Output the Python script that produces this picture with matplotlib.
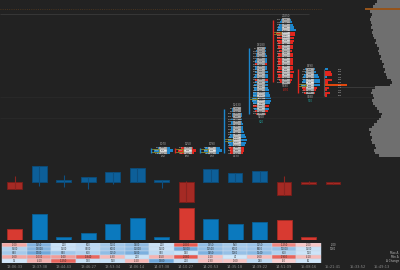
import matplotlib
matplotlib.use("Agg")
import matplotlib.pyplot as plt
from matplotlib.patches import Rectangle
import numpy as np

BG = '#222222'
BLUE = '#1c86cc'
RED = '#e3261e'
TEAL = '#1f9e9a'

# ---- per-bar data (14 bars, last one still forming) ----
times = ['13:06:33', '13:37:38', '13:44:43', '13:46:27', '13:53:34', '14:06:14',
         '14:07:38', '14:10:27', '14:20:53', '14:35:18', '14:39:22', '14:51:09',
         '15:08:16', '15:21:41', '15:33:52', '15:49:13']
delta_close = [-700, 1650, 200, 500, 1000, 1400, 200, -2000, 1350, 950, 1150, -1250, -200, -200]
delta_high = [600, 1650, 700, 500, 1000, 1400, 200, 150, 1350, 950, 1150, 600, 100, 0]
delta_low = [-700, -400, -500, -700, -200, 0, -550, -2000, 0, 0, 0, -1250, -200, -200]
volume = [5500, 13000, 1500, 3500, 8000, 11000, 1500, 16000, 10500, 8000, 9000, 10000, 1500]

# ---- statistics table under the chart ----
row_names = ['Max Δ', 'Min Δ', 'Δ Change']
max_delta = [820, 1700, 870, 610, 1150, 1500, 350, 140, 1450, 1060, 1240, 610, 120]
min_delta = [-760, -1030, -940, -1840, -430, 210, -550, -2080, -310, 40, -360, -1900, -410]
delta_change = [15, -410, -1250, 130, 160, -320, 1380, 210, -230, -160, 290, -50, 60]

# ---- footprint clusters (price levels from low to high) ----
BASE = 4170.00
TICK = 0.25
cl_bar = [6, 7, 8, 9, 10, 11, 12]
cl_low = [4170.25, 4170.25, 4170.25, 4170.25, 4174.00, 4177.00, 4176.00]
cl_up = [True, False, True, True, True, False, False]
cl_bids = [
    [120, 260, 90],
    [210, 380, 160],
    [90, 230, 150],
    [310, 420, 520, 480, 610, 700, 560, 430, 380, 300, 260, 240, 210, 180, 150, 120, 90, 60],
    [180, 340, 420, 510, 560, 640, 720, 590, 480, 420, 380, 350, 300, 330, 360, 310, 280,
     250, 230, 260, 220, 190, 160, 130, 100, 70],
    [200, 330, 410, 470, 520, 490, 450, 400, 430, 470, 420, 380, 350, 400, 440, 480, 520,
     560, 600, 650, 540, 420, 300, 210, 120],
    [160, 240, 330, 420, 350, 300, 240, 190, 140, 90],
]
cl_asks = [
    [150, 310, 140],
    [140, 250, 110],
    [130, 300, 190],
    [260, 390, 470, 520, 690, 820, 640, 520, 450, 360, 300, 280, 240, 200, 170, 130, 100, 70],
    [150, 300, 460, 480, 620, 700, 760, 640, 520, 470, 400, 390, 340, 300, 380, 340, 320,
     290, 260, 240, 250, 230, 190, 160, 120, 90],
    [150, 260, 340, 380, 450, 410, 400, 350, 390, 410, 360, 330, 300, 330, 380, 420, 450,
     490, 560, 620, 700, 480, 350, 240, 140],
    [120, 190, 280, 460, 520, 470, 380, 300, 200, 110],
]
cur_bar = 13
cur_low = 4175.75
cur_bids = [80, 140, 60, 110, 480, 90, 200, 40, 180, 150, 60]
cur_asks = [40, 90, 50, 60, 420, 60, 120, 70, 140, 110, 90]

# ---- session volume profile, one value per level from BASE upward ----
profile = [2000, 2400, 2500, 2300, 2400, 2700, 2800, 2700, 2900, 2800, 3000, 2700, 2500, 2200,
           2000, 1800, 1700, 2000, 2200, 2400, 2600, 2700, 2500, 2600, 2800, 2700, 2400, 1000,
           800, 900, 1200, 1300, 1500, 1400, 1600, 1500, 1700, 1900, 1800, 2000, 2100, 2000,
           2200, 2400, 2300, 2500, 2600, 2700, 2600, 2800, 2700, 2800, 2900, 2800, 2700, 2900,
           3300, 2600, 2400, 2200]

XMIN, XMAX = -0.6, 15.73

fig = plt.figure(figsize=(4, 2.7), dpi=100, facecolor=BG)


def panel(rect):
    ax = fig.add_axes(rect)
    ax.set_facecolor(BG)
    ax.set_xlim(XMIN, XMAX)
    for s in ax.spines.values():
        s.set_visible(False)
    ax.set_xticks([])
    ax.set_yticks([])
    return ax


## Price panel with footprints ##
ax = panel([0, 0.4185, 1, 0.5815])
ax.set_ylim(BASE - 0.5 * TICK, BASE + 59.5 * TICK)

ax.hlines(BASE + 56 * TICK, XMIN, 12.5, color='#5a3c1e', lw=0.6, linestyle=':')
ax.hlines(BASE + 54 * TICK, XMIN, 12.0, color='#3a3a3a', lw=0.6)
ax.hlines([BASE + 22.5 * TICK, BASE + 14.5 * TICK], XMIN, XMAX, color='#2c2c2c', lw=0.5)
ax.hlines(BASE + 26.3 * TICK, 13.3, XMAX, color='#444444', lw=0.5)

for i, low, up, bids, asks in zip(cl_bar, cl_low, cl_up, cl_bids, cl_asks):
    bids = np.array(bids)
    asks = np.array(asks)
    tot = bids + asks
    lv = low + TICK * np.arange(len(bids))
    side_max = max(bids.max(), asks.max())
    col = np.where(asks >= bids, BLUE, RED)
    ax.barh(lv, -0.24 * bids / side_max, left=i - 0.1, height=TICK * 0.8, color=col)
    ax.barh(lv, 0.26 * asks / side_max, left=i + 0.22, height=TICK * 0.8, color=col)
    greys = [str(0.62 + 0.28 * v / tot.max()) for v in tot]
    ax.barh(lv, 0.32, left=i - 0.1, height=TICK * 0.9, color=greys, edgecolor='#555555', lw=0.2)
    ax.vlines(i - 0.45, lv[0], lv[-1], color=BLUE if up else RED, lw=1.0)
    for p, b, t in zip(lv, bids, tot):
        ax.text(i - 0.12, p, str(b), ha='right', va='center', fontsize=1.6, color='#bbbbbb', clip_on=True)
        ax.text(i + 0.06, p, str(t), ha='center', va='center', fontsize=1.6, color='#333333', clip_on=True)
    k = tot.argmax()
    ax.add_patch(Rectangle((i - 0.44, lv[k] - TICK * 0.45), 0.32, TICK * 0.9,
                           fill=False, ec='#8a8a2a', lw=0.6))
    d = int(asks.sum() - bids.sum())
    ax.text(i + 0.06, lv[-1] + TICK * 1.4, str(tot.sum()), ha='center', va='center',
            fontsize=2, color='#aaaaaa', clip_on=True)
    ax.text(i + 0.06, lv[0] - TICK * 1.4, str(asks.sum()), ha='center', va='center',
            fontsize=2, color='#aaaaaa', clip_on=True)
    ax.text(i + 0.06, lv[0] - TICK * 3.0, str(d), ha='center', va='center',
            fontsize=2, color=TEAL if d >= 0 else RED, clip_on=True)

# current (forming) bar
cb = np.array(cur_bids)
ca = np.array(cur_asks)
ct = cb + ca
clv = cur_low + TICK * np.arange(len(cb))
ccol = np.where(ca >= cb, BLUE, RED).tolist()
ccol[int(ct.argmax())] = '#e0470e'
ax.barh(clv, 0.9 * ct / ct.max(), left=cur_bar - 0.35, height=TICK * 0.85, color=ccol)
ax.vlines(cur_bar - 0.37, clv[0], clv[-1], color='#555555', lw=0.8)
for p, t in zip(clv, ct):
    ax.text(cur_bar + 0.2, p, str(t), ha='left', va='center', fontsize=1.6, color='#bbbbbb')

## Volume profile on the right ##
axp = fig.add_axes([0.8875, 0.4185, 0.1125, 0.5815], sharey=ax)
axp.set_facecolor('none')
axp.axis('off')
levels = BASE + TICK * np.arange(len(profile))
pcol = ['#6f6f6f'] * len(profile)
pcol[int(np.argmax(profile))] = '#94541c'
axp.barh(levels, profile, height=TICK, color=pcol)
axp.set_xlim(4300, 0)

## Delta candles ##
axc = panel([0, 0.2407, 1, 0.1667])
axc.set_ylim(-2300, 2200)
xc = np.arange(len(delta_close))
cc = np.array(delta_close)
body = np.where(cc >= 0, '#0d5f99', '#a52a24')
wick = np.where(cc >= 0, '#0d4f80', '#8a2420')
axc.vlines(xc, delta_low, delta_high, color=wick, lw=0.8)
axc.bar(xc, cc, bottom=0, width=0.6, color=body, edgecolor=np.where(cc >= 0, '#0a4c7a', '#7a1d19'), lw=0.6)

## Volume bars ##
axv = panel([0, 0.1111, 1, 0.1296])
axv.set_ylim(0, 17500)
xv = np.arange(len(volume))
vcol = np.where(cc[:len(volume)] >= 0, '#0b79be', '#d83a31')
vedge = np.where(cc[:len(volume)] >= 0, '#0a5f94', '#a82b24')
axv.bar(xv, volume, width=0.62, color=vcol, edgecolor=vedge, lw=0.6)

## Statistics table ##
axt = panel([0, 0.0259, 1, 0.0741])
axt.set_ylim(5, 0)


def shade(v, scale):
    t = min(abs(v) / scale, 1.0)
    if v >= 0:
        a, b = np.array([0.83, 0.91, 0.98]), np.array([0.44, 0.66, 0.86])
    else:
        a, b = np.array([0.98, 0.83, 0.83]), np.array([0.91, 0.35, 0.31])
    return tuple(a + (b - a) * t)


rows = [delta_close[:13], volume, max_delta, min_delta, delta_change]
for r, vals in enumerate(rows):
    scale = max(abs(v) for v in vals)
    cols = [shade(v, scale) for v in vals]
    axt.bar(np.arange(len(vals)), 0.98, bottom=r, width=1.0, color=cols,
            edgecolor='#c9d9ea', lw=0.3, align='center')
    for j, v in enumerate(vals):
        axt.text(j, r + 0.5, str(v), ha='center', va='center', fontsize=1.8, color='#333333')
axt.text(cur_bar, 0.5, str(delta_close[cur_bar]), ha='center', va='center', fontsize=1.8, color='#bbbbbb')
axt.text(cur_bar, 1.5, '1060', ha='center', va='center', fontsize=1.8, color='#bbbbbb')
for r, name in enumerate(row_names):
    axt.text(XMAX - 0.05, r + 2.5, name, ha='right', va='center', fontsize=2, color='#bbbbbb')

axt.set_xticks(np.arange(len(times)))
axt.set_xticklabels(times)
axt.tick_params(axis='x', length=0, pad=1.2, labelsize=2.6, labelcolor='#8a8a8a')

fig.savefig('out.png', dpi=100, facecolor=BG)
